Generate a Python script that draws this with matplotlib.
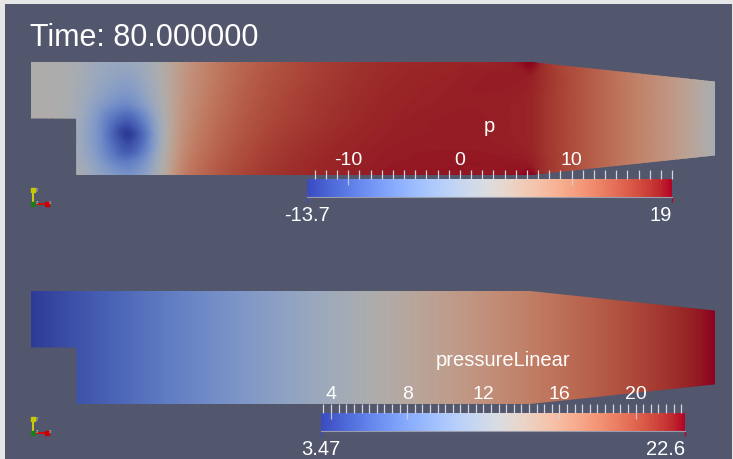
"""
Two stacked pressure views of the backward-facing step (pitzDaily-style)
with their colour legends, in the look of a ParaView render window.
"""

import numpy as np
import matplotlib

matplotlib.use("Agg")
import matplotlib.pyplot as plt
import matplotlib.tri as mtri
from matplotlib.colors import ListedColormap
from matplotlib.patches import Polygon, Rectangle
from matplotlib.ticker import MultipleLocator

W, H = 733, 460
BG = "#52576e"
BORDER = "#e6e6e6"
TICK_COLOR = "#d4d5da"
SHADE = 0.78

plt.rcParams["font.family"] = ["Liberation Sans", "DejaVu Sans"]

# domain outline (mm)
DOMAIN_X = [-20.6, 206.0, 290.0, 290.0, 206.0, 0.0, 0.0, -20.6]
DOMAIN_Y = [25.4, 25.4, 16.6, -16.6, -25.4, -25.4, 0.0, 0.0]

P_X = [-20.6, -8, 0, 8, 16, 23.5, 31, 39, 48, 60, 75, 95, 130, 170, 200, 206, 214, 230, 250, 270, 290]
P_Y = [25.4, 17, 8, 0, -7, -14, -20, -25.4]
P_GRID = [
    [3.0, 2.6, 2.0, 0.6, -0.2, -0.4, 1.0, 3.2, 6.5, 9.8, 12.4, 14.6, 16.8, 17.6, 18.2, 19.0, 16.6, 14.0, 10.6, 7.0, 2.0],
    [3.0, 2.6, 1.8, 0.0, -1.4, -2.0, -0.2, 2.8, 6.8, 10.0, 12.8, 14.9, 17.0, 17.8, 18.0, 17.8, 16.6, 14.0, 10.6, 7.0, 2.0],
    [3.0, 2.6, 1.4, -1.2, -3.8, -4.8, -2.0, 2.3, 7.0, 10.5, 13.2, 15.3, 17.2, 17.9, 17.8, 17.6, 16.4, 14.0, 10.6, 7.0, 2.0],
    [3.0, 2.6, 1.0, -2.8, -7.8, -10.0, -6.0, 1.4, 7.3, 11.0, 13.6, 15.6, 17.4, 18.0, 17.8, 17.6, 16.4, 14.0, 10.6, 7.0, 2.0],
    [2.8, 2.6, 0.6, -3.2, -9.5, -13.7, -8.5, 1.0, 7.8, 11.5, 14.0, 16.0, 17.6, 18.0, 17.8, 17.6, 16.4, 14.0, 10.6, 7.0, 2.0],
    [2.8, 2.6, 0.8, -2.8, -8.0, -11.0, -7.0, 1.5, 8.3, 12.0, 14.5, 16.4, 17.8, 18.1, 17.9, 17.7, 16.4, 14.0, 10.6, 7.0, 2.0],
    [2.8, 2.6, 1.4, -1.6, -5.5, -7.0, -4.0, 2.4, 9.0, 12.6, 14.9, 16.7, 17.9, 18.2, 18.2, 18.0, 16.6, 14.0, 10.6, 7.0, 2.0],
    [2.8, 2.6, 2.2, -0.5, -3.0, -4.5, -2.0, 3.2, 9.6, 13.0, 15.3, 16.9, 18.0, 18.3, 18.5, 19.0, 16.6, 14.0, 10.6, 7.0, 2.0],
]
P_RANGE = (-13.7, 19.0)
P_MAJOR = [-10, 0, 10]
P_MINOR_STEP = 1.0

# pressureLinear: end values along the channel
PL_X = [-20.6, 290.0]
PL_Y = [25.4, -25.4]
PL_GRID = [[3.47, 22.6], [3.47, 22.6]]
PL_RANGE = (3.47, 22.6)
PL_MAJOR = [4, 8, 12, 16, 20]
PL_MINOR_STEP = 0.4

COOLWARM = plt.get_cmap("coolwarm", 256)
SHADED = ListedColormap(COOLWARM(np.linspace(0, 1, 256))[:, :3] * SHADE)


def px_rect(x0, y0, x1, y1):
    return [x0 / W, 1 - y1 / H, (x1 - x0) / W, (y1 - y0) / H]


def draw_field(fig, rect, xs, ys, grid, vrange, smooth):
    ax = fig.add_axes(rect)
    ax.set_xlim(min(DOMAIN_X), max(DOMAIN_X))
    ax.set_ylim(min(DOMAIN_Y), max(DOMAIN_Y))
    ax.axis("off")

    X, Y = np.meshgrid(xs, ys)
    z = np.asarray(grid, dtype=float).ravel()
    tri = mtri.Triangulation(X.ravel(), Y.ravel())
    if smooth:
        interp = mtri.CubicTriInterpolator(tri, z, kind="geom")
        tri, z = mtri.UniformTriRefiner(tri).refine_field(z, triinterpolator=interp, subdiv=4)

    levels = np.linspace(vrange[0], vrange[1], 257)
    cs = ax.tricontourf(tri, z, levels=levels, cmap=SHADED, extend="both")
    outline = Polygon(np.column_stack([DOMAIN_X, DOMAIN_Y]), closed=True,
                      facecolor="none", edgecolor="none", transform=ax.transData)
    ax.add_patch(outline)
    cs.set_clip_path(outline)
    return ax


def draw_colorbar(fig, rect, vrange, major, minor_step, title, lo_text, hi_text):
    vmin, vmax = vrange
    cax = fig.add_axes(rect)
    ramp = np.linspace(vmin, vmax, 256)[None, :]
    cax.imshow(ramp, cmap=COOLWARM, vmin=vmin, vmax=vmax, extent=[vmin, vmax, 0, 1],
               aspect="auto", interpolation="nearest")
    cax.set_xlim(vmin, vmax)
    cax.set_ylim(0, 1)
    cax.set_yticks([])
    for side in ["top", "left", "right"]:
        cax.spines[side].set_visible(False)
    cax.spines["bottom"].set_color("#9a9cab")
    cax.spines["bottom"].set_linewidth(0.8)

    cax.xaxis.set_ticks_position("top")
    cax.set_xticks(major)
    cax.set_xticklabels([str(m) for m in major])
    cax.xaxis.set_minor_locator(MultipleLocator(minor_step))
    cax.tick_params(which="both", direction="out", length=6.5, width=0.9, color=TICK_COLOR,
                    top=True, bottom=False, labeltop=True, labelbottom=False,
                    labelcolor="white", labelsize=14, pad=1.5)
    # major ticks run a little way into the bar
    cax.vlines(major, 1 - 6 / 18, 1, colors=TICK_COLOR, lw=0.9, alpha=0.85)

    cax.vlines([vmin], -0.3, 0, colors=[COOLWARM(0.0)], lw=1.0, clip_on=False)
    cax.vlines([vmax], -0.3, 0, colors=[COOLWARM(1.0)], lw=1.0, clip_on=False)

    cax.text(0.5, 1 + 53 / 18, title, transform=cax.transAxes, ha="center", va="center",
             color="white", fontsize=14.5)
    cax.text(vmin, -1.0, lo_text, transform=cax.get_xaxis_transform(), ha="center",
             va="center", color="white", fontsize=14.5, clip_on=False)
    cax.text(vmax, -1.0, hi_text, transform=cax.get_xaxis_transform(), ha="right",
             va="center", color="white", fontsize=14.5, clip_on=False)
    return cax


def draw_triad(ax, x0, y0):
    ax.plot([x0, x0], [y0, y0 - 15], color="#e3e300", lw=1.2)
    ax.plot([x0, x0 + 15], [y0, y0], color="#e00000", lw=1.2)
    ax.plot([x0], [y0 - 14], marker="s", ms=2.2, color="#c8c800")
    ax.plot([x0 + 14], [y0], marker="s", ms=2.2, color="#c80000")
    ax.plot([x0], [y0], marker="s", ms=2.5, color="#1f7a1f")
    ax.text(x0 + 2.5, y0 - 15, "y", fontsize=3.5, color="#d0d0d0", va="center")
    ax.text(x0 + 15.5, y0 - 2.5, "x", fontsize=3.5, color="#d0d0d0", va="center")
    ax.text(x0 + 2.5, y0 - 2.5, "z", fontsize=3.5, color="#d0d0d0", va="center")


def main():
    fig = plt.figure(figsize=(W / 100, H / 100), dpi=100, facecolor=BORDER)

    bg = fig.add_axes([0, 0, 1, 1])
    bg.set_xlim(0, W)
    bg.set_ylim(H, 0)
    bg.axis("off")
    bg.add_patch(Rectangle((5, 5), W - 6, H - 5, facecolor=BG, edgecolor="none"))
    bg.text(30, 46, "Time: 80.000000", fontsize=22, color="white", va="baseline")
    draw_triad(bg, 33, 205)
    draw_triad(bg, 33, 434)

    draw_field(fig, px_rect(31, 63, 715, 176), P_X, P_Y, P_GRID, P_RANGE, smooth=True)
    draw_field(fig, px_rect(31, 292, 715, 405), PL_X, PL_Y, PL_GRID, PL_RANGE, smooth=False)

    draw_colorbar(fig, px_rect(307, 180, 672, 198), P_RANGE, P_MAJOR, P_MINOR_STEP,
                  "p", "-13.7", "19")
    draw_colorbar(fig, px_rect(321, 414, 685, 432), PL_RANGE, PL_MAJOR, PL_MINOR_STEP,
                  "pressureLinear", "3.47", "22.6")

    fig.savefig("out.png", dpi=100, facecolor=fig.get_facecolor())


if __name__ == "__main__":
    main()
